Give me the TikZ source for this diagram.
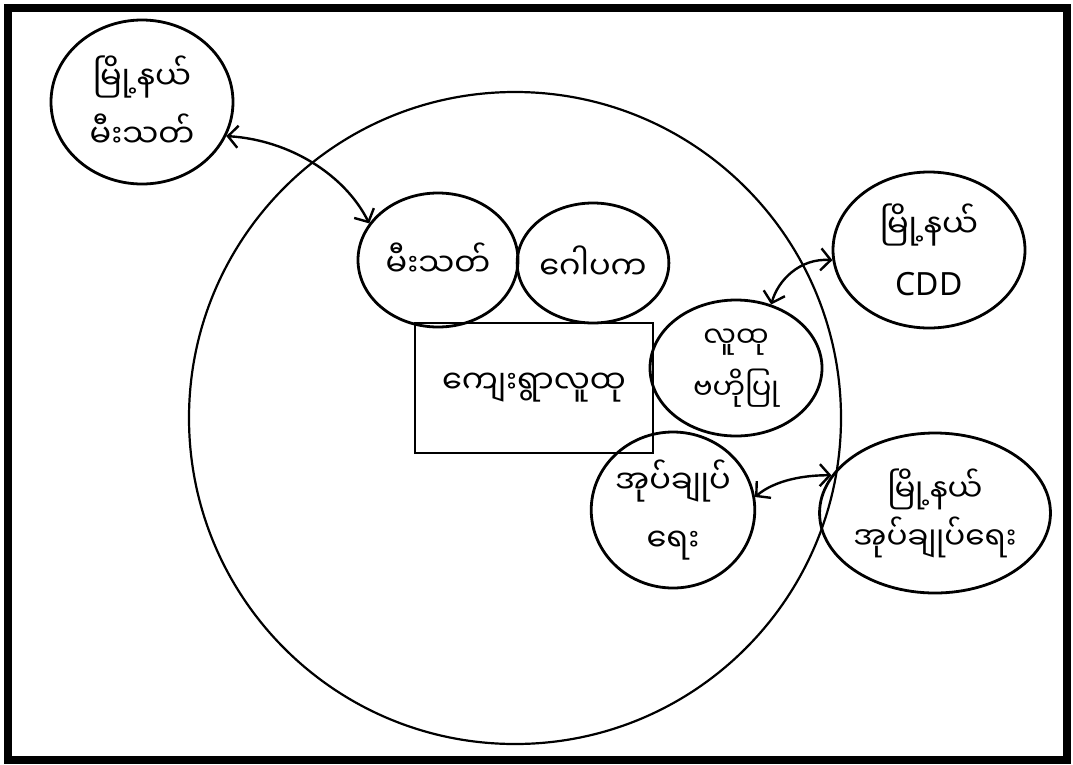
\documentclass[tikz,border=0pt]{standalone}
\usepackage{fontspec}
\newfontfamily\mya[Script=Myanmar]{Noto Sans Myanmar UI}
\newfontfamily\lat{Noto Sans}
\usetikzlibrary{arrows.meta,shapes.geometric}
\begin{document}
\begin{tikzpicture}[x=1pt,y=-1pt,
  bub/.style={draw, ellipse, line width=2.8pt, inner sep=0pt, align=center,
    font=\mya\fontsize{32}{58}\selectfont},
  boxnode/.style={draw, rectangle, line width=2.8pt, inner sep=0pt, align=center,
    font=\mya\fontsize{32}{58}\selectfont},
  dbl/.style={line width=2.4pt, {Straight Barb[length=10pt,width=22pt]}-{Straight Barb[length=10pt,width=22pt]}}
]
\useasboundingbox (0,0) rectangle (1073,764);
\fill[white] (0,0) rectangle (1073,764);
\draw[line width=8pt] (8,8) rectangle (1067,760);

% big circle
\node[draw, circle, line width=2.2pt, minimum size=652pt, inner sep=0pt] (big) at (515,418) {};

% outer township nodes
\node[bub, minimum width=182pt, minimum height=164pt] (tl) at (142,102) {မြို့နယ်\\မီးသတ်};
\node[bub, minimum width=192pt, minimum height=156pt] (cdd) at (929,250) {မြို့နယ်\\{\lat CDD}};
\node[bub, minimum width=204pt, minimum height=160pt, font=\mya\fontsize{31}{48}\selectfont] (br) at (935,513) {မြို့နယ်\\အုပ်ချုပ်ရေး};

% inner nodes
\node[bub, minimum width=160pt, minimum height=134pt] (mi) at (438,260) {မီးသတ်};
\node[bub, minimum width=144pt, minimum height=120pt] (gp) at (593,263) {ဂေါပက};
\node[boxnode, minimum width=238pt, minimum height=130pt] (vc) at (534,388) {ကျေးရွာလူထု};
\node[bub, minimum width=172pt, minimum height=136pt, font=\mya\fontsize{29}{52}\selectfont] (lt) at (736,368) {လူထု\\ဗဟိုပြု};
\node[bub, minimum width=160pt, minimum height=156pt] (ou) at (673,510) {အုပ်ချုပ်\\ရေး};

% connectors
\draw[dbl] (tl.-22) .. controls (290,140) and (345,175) .. (mi.152);
\draw[dbl] (cdd.186) .. controls (800,258) and (778,280) .. (lt.61);
\draw[dbl] (ou.9) .. controls (775,480) and (805,475) .. (br.160);
\end{tikzpicture}
\end{document}
